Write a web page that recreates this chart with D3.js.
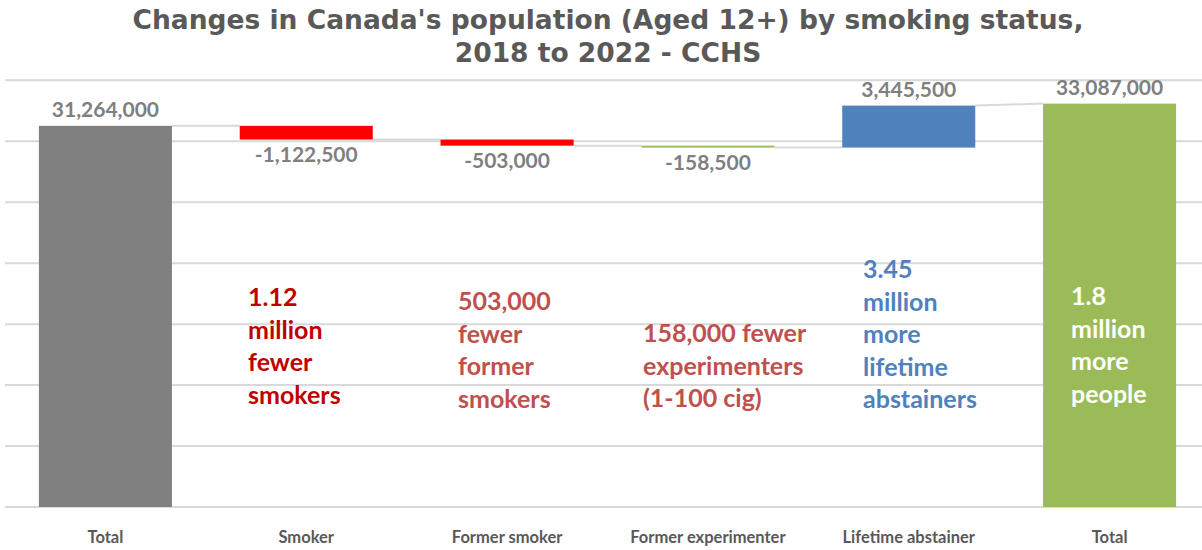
<!DOCTYPE html>
<html>
<head>
<meta charset="utf-8">
<script src="https://cdn.jsdelivr.net/npm/d3@7"></script>
<style>
  body { margin: 0; background: #fff; }
  svg { display: block; }
</style>
</head>
<body>
<div id="chart"></div>
<script>
const categories = ["Total", "Smoker", "Former smoker", "Former experimenter", "Lifetime abstainer", "Total"];
const values = [31264000, -1122500, -503000, -158500, 3445500, 33087000];
const isTotal = [true, false, false, false, false, true];
const barColors = ["#808080", "#ff0000", "#ff0000", "#9bbb59", "#4f81bd", "#9bbb59"];
const yTicks = [0, 5000000, 10000000, 15000000, 20000000, 25000000, 30000000, 35000000];

const titleLines = ["Changes in Canada's population (Aged 12+) by smoking status,", "2018 to 2022 - CCHS"];

// annotation text boxes: lines, colour, which bar they sit on
const notes = [
  { bar: 1, lines: ["1.12", "million", "fewer", "smokers"], color: "#c00000", x: 248, y: 298 },
  { bar: 2, lines: ["503,000", "fewer", "former", "smokers"], color: "#c0504d", x: 458, y: 302 },
  { bar: 3, lines: ["158,000 fewer", "experimenters", "(1-100 cig)"], color: "#c0504d", x: 643, y: 334 },
  { bar: 4, lines: ["3.45", "million", "more", "lifetime", "abstainers"], color: "#4f81bd", x: 863, y: 270 },
  { bar: 5, lines: ["1.8", "million", "more", "people"], color: "#ffffff", x: 1071, y: 297 }
];

const width = 1202, height = 550;
// plain hyphen for negatives, like the original
const fmt = d3.formatLocale({ decimal: ".", thousands: ",", grouping: [3], currency: ["", ""], minus: "-" }).format(",");

// running totals -> start/end of each bar
let running = 0;
const bars = values.map((v, i) => {
  let start, end;
  if (isTotal[i]) { start = 0; end = v; running = v; }
  else { start = running; end = running + v; running = end; }
  return { i, cat: categories[i], value: v, start, end };
});

const svg = d3.select("#chart").append("svg")
  .attr("width", width)
  .attr("height", height);

const x = d3.scaleBand()
  .domain(d3.range(categories.length))
  .range([5, 1210])
  .paddingInner(0.3376)
  .paddingOuter(0.1688);

const y = d3.scaleLinear()
  .domain([0, 35000000])
  .range([507, 80.3]);

// gridlines
svg.append("g").selectAll("line")
  .data(yTicks)
  .enter().append("line")
  .attr("x1", 5).attr("x2", width)
  .attr("y1", d => y(d)).attr("y2", d => y(d))
  .attr("stroke", "#d9d9d9")
  .attr("stroke-width", 2);

// connectors between bars
const links = bars.slice(1).map((b, k) => {
  const prev = bars[k];
  return { x1: x(prev.i) + x.bandwidth(), y1: prev.end, x2: x(b.i), y2: isTotal[b.i] ? b.end : b.start };
});
svg.append("g").selectAll("line")
  .data(links)
  .enter().append("line")
  .attr("x1", d => d.x1).attr("x2", d => d.x2)
  .attr("y1", d => y(d.y1)).attr("y2", d => y(d.y2))
  .attr("stroke", "#d9d9d9")
  .attr("stroke-width", 2);

// bars
svg.append("g").selectAll("rect")
  .data(bars)
  .enter().append("rect")
  .attr("x", d => x(d.i))
  .attr("width", x.bandwidth())
  .attr("y", d => y(Math.max(d.start, d.end)))
  .attr("height", d => Math.max(1.5, Math.abs(y(d.start) - y(d.end))))
  .attr("fill", d => barColors[d.i]);

// value labels
svg.append("g").selectAll("text")
  .data(bars)
  .enter().append("text")
  .attr("x", d => x(d.i) + x.bandwidth() / 2)
  .attr("y", d => d.value >= 0 ? y(Math.max(d.start, d.end)) - 9 : y(Math.min(d.start, d.end)) + 22)
  .attr("text-anchor", "middle")
  .attr("font-family", "Lato, 'Open Sans', sans-serif")
  .attr("font-weight", "bold")
  .attr("font-size", 21)
  .attr("fill", "#7f7f7f")
  .text(d => fmt(d.value));

// category labels
svg.append("g").selectAll("text")
  .data(bars)
  .enter().append("text")
  .attr("x", d => x(d.i) + x.bandwidth() / 2)
  .attr("y", 543)
  .attr("text-anchor", "middle")
  .attr("font-family", "Lato, 'Open Sans', sans-serif")
  .attr("font-weight", "bold")
  .attr("font-size", 16.5)
  .attr("fill", "#595959")
  .text(d => d.cat);

// title
svg.append("g").selectAll("text")
  .data(titleLines)
  .enter().append("text")
  .attr("x", 608)
  .attr("y", (d, i) => 29 + i * 33)
  .attr("text-anchor", "middle")
  .attr("font-family", "'DejaVu Sans', Verdana, sans-serif")
  .attr("font-weight", "bold")
  .attr("font-size", 26.5)
  .attr("fill", "#595959")
  .text(d => d);

// annotations
notes.forEach(n => {
  const t = svg.append("text")
    .attr("font-family", "Lato, 'Open Sans', sans-serif")
    .attr("font-weight", "bold")
    .attr("font-size", 25)
    .attr("fill", n.color);
  t.selectAll("tspan")
    .data(n.lines)
    .enter().append("tspan")
    .attr("x", n.x)
    .attr("y", (d, i) => n.y + 8 + i * 32.5)
    .text(d => d);
});
</script>
</body>
</html>
